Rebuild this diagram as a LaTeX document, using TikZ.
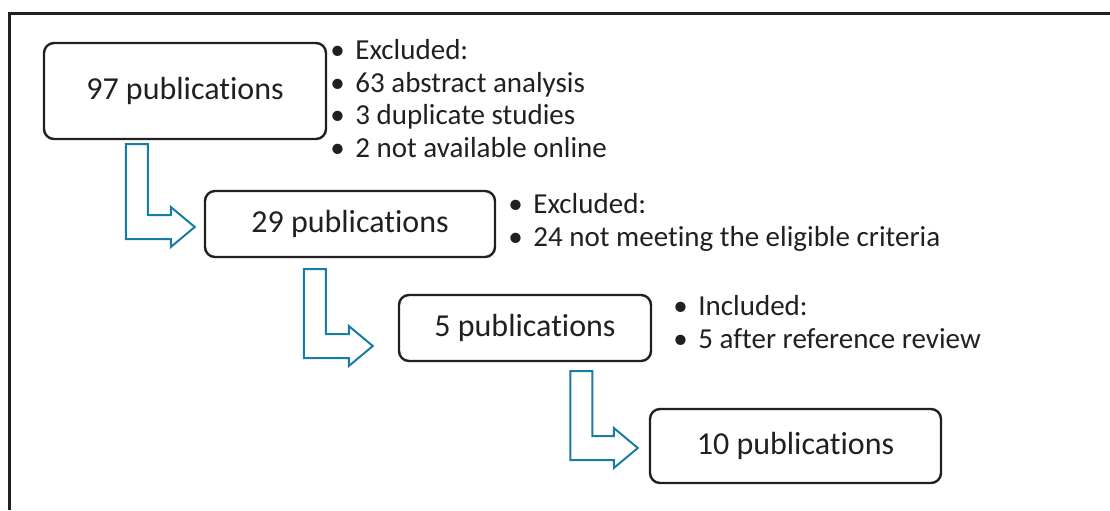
\documentclass[tikz,border=0pt]{standalone}
\usepackage{fontspec}
\setmainfont{Carlito}[Ligatures=NoCommon]
\usetikzlibrary{calc}

\definecolor{flowblue}{RGB}{22,126,166}
\definecolor{inkgray}{RGB}{35,31,32}

\tikzset{
  pub/.style={draw=inkgray, line width=1.2pt, rounded corners=5pt, inner sep=0pt,
    text=inkgray, font=\fontsize{16}{19}\selectfont},
  notes/.style={anchor=north west, align=left, inner sep=0pt, text=inkgray,
    font=\fontsize{14.5}{16.3}\selectfont},
  flow/.style={draw=flowblue, line width=1pt, line join=miter}
}

\newcommand{\bul}{\makebox[12.5pt][l]{\textbullet}}

% hollow bent arrow: #1 source box, #2 offset of the shaft from its south west,
% #3 target box, #4 offset of the tip from its west side
\newcommand{\bentarrow}[4]{%
  \draw[flow] let \p1=($(#1.south west)+#2$), \p2=($(#3.west)+#4$) in
    (\x1-5.5pt,\y1) -- (\x1+5.5pt,\y1) -- (\x1+5.5pt,\y2+6pt)
    -- (\x2-12pt,\y2+6pt) -- (\x2-12pt,\y2+10pt) -- (\x2,\y2)
    -- (\x2-12pt,\y2-10pt) -- (\x2-12pt,\y2-6pt) -- (\x1-5.5pt,\y2-6pt) -- cycle;
}

\begin{document}
\begin{tikzpicture}[x=0.5pt, y=-0.5pt]
  \useasboundingbox (0,0) rectangle (1110,510);

  % open frame
  \draw[inkgray, line width=1.5pt] (9,510) -- (9,13) -- (1110,13);

  % publication counts
  \node[pub, minimum width=141pt, minimum height=48pt] (p97) at (185,91) {97 publications};
  \node[pub, minimum width=145pt, minimum height=33pt] (p29) at (350,224) {29 publications};
  \node[pub, minimum width=126pt, minimum height=33pt] (p5) at (525,328) {5 publications};
  \node[pub, minimum width=145.5pt, minimum height=37pt] (p10) at (795.5,446) {10 publications};

  % notes beside each step
  \node[notes] (n97) at (330,39) {\bul Excluded:\\ \bul 63 abstract analysis\\
    \bul 3 duplicate studies\\ \bul 2 not available online};
  \node[notes] (n29) at (508,193) {\bul Excluded:\\ \bul 24 not meeting the eligible criteria};
  \node[notes] (n5) at (673,295) {\bul Included:\\ \bul 5 after reference review};

  % arrows between steps
  \bentarrow{p97}{(94,4)}{p29}{(-9,3)}
  \bentarrow{p29}{(111,11)}{p5}{(-25,18)}
  \bentarrow{p5}{(183.5,9)}{p10}{(-11,2)}
\end{tikzpicture}
\end{document}
